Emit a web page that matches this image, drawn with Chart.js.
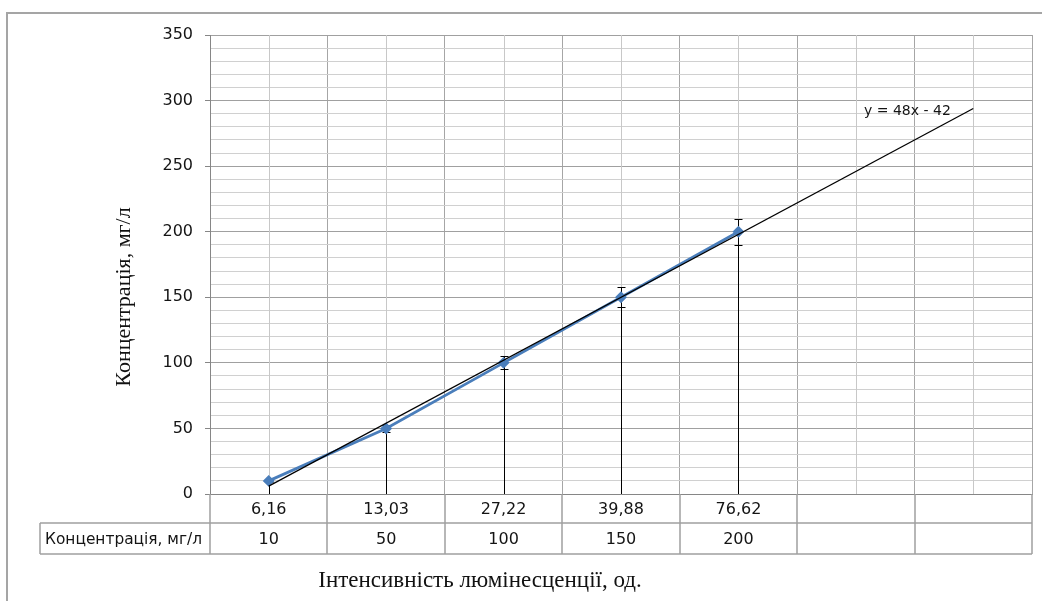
<!DOCTYPE html>
<html>
<head>
<meta charset="utf-8">
<script src="https://cdn.jsdelivr.net/npm/chart.js@4.4.1/dist/chart.umd.min.js"></script>
<style>
  html, body { margin: 0; padding: 0; background: #fff; }
  #wrap { width: 1042px; height: 601px; }
</style>
</head>
<body>
<div id="wrap"><canvas id="calibChart" width="1042" height="601"></canvas></div>
<script>
// intensity (x categories), the last two columns are empty in the original sheet
const intensity = ['6,16', '13,03', '27,22', '39,88', '76,62', '', ''];
// concentration, mg/l
const concentration = [10, 50, 100, 150, 200];
// error bar half widths (5 %)
const errorValues = [0.5, 2.5, 5, 7.5, 10];
// linear trend, read at the first and the last category
const trendValues = [6, null, null, null, null, null, 294];
const trendLabel = 'y = 48x - 42';
const yTicks = [0, 50, 100, 150, 200, 250, 300, 350];
const rowHeader = 'Концентрація, мг/л';
const xTitle = 'Інтенсивність люмінесценції, од.';
const yTitle = 'Концентрація, мг/л';

const sans = 'DejaVu Sans';
const serif = 'Liberation Serif';
const textColor = '#141414';
const tableColor = '#a0a0a0';

// frame, minor grid, drop lines, error bars, data table and titles
const excelExtras = {
    id: 'excelExtras',
    beforeDraw(chart) {
        const c = chart.ctx;
        c.save();
        c.fillStyle = '#fff';
        c.fillRect(0, 0, chart.width, chart.height);
        c.strokeStyle = '#a5a5a5';
        c.lineWidth = 2;
        c.strokeRect(7, 13, chart.width + 20, chart.height + 20);
        c.restore();
    },
    beforeDatasetsDraw(chart) {
        const { ctx: c, chartArea: a, scales: { x, y } } = chart;
        c.save();
        c.lineWidth = 1;
        c.strokeStyle = '#c8c8c8';
        intensity.forEach((_, i) => {
            const px = Math.round(x.getPixelForValue(i)) + 0.5;
            c.beginPath();
            c.moveTo(px, a.top);
            c.lineTo(px, a.bottom);
            c.stroke();
        });
        c.strokeStyle = '#000';
        concentration.forEach((v, i) => {
            const px = Math.round(x.getPixelForValue(i)) + 0.5;
            c.beginPath();
            c.moveTo(px, y.getPixelForValue(v));
            c.lineTo(px, a.bottom);
            c.stroke();
            const top = Math.round(y.getPixelForValue(v + errorValues[i])) + 0.5;
            const bot = Math.round(y.getPixelForValue(v - errorValues[i])) + 0.5;
            c.beginPath();
            c.moveTo(px, top); c.lineTo(px, bot);
            c.moveTo(px - 4, top); c.lineTo(px + 4, top);
            c.moveTo(px - 4, bot); c.lineTo(px + 4, bot);
            c.stroke();
        });
        c.restore();
    },
    afterDraw(chart) {
        const { ctx: c, chartArea: a, scales: { x } } = chart;
        const half = (x.getPixelForValue(1) - x.getPixelForValue(0)) / 2;
        const r0 = a.bottom, r1 = r0 + 29, r2 = r0 + 60;
        c.save();
        c.strokeStyle = tableColor;
        c.lineWidth = 1.5;
        c.beginPath();
        c.moveTo(40, r1); c.lineTo(a.right, r1);
        c.moveTo(40, r2); c.lineTo(a.right, r2);
        c.moveTo(40, r1); c.lineTo(40, r2);
        for (let i = 0; i <= intensity.length; i++) {
            const px = Math.round(x.getPixelForValue(0) - half + i * 2 * half);
            c.moveTo(px, r0); c.lineTo(px, r2);
        }
        c.stroke();

        c.fillStyle = textColor;
        c.font = '16px "' + sans + '"';
        c.textBaseline = 'middle';
        c.textAlign = 'center';
        intensity.forEach((t, i) => c.fillText(t, x.getPixelForValue(i), (r0 + r1) / 2 + 1));
        concentration.forEach((v, i) => c.fillText(String(v), x.getPixelForValue(i), (r1 + r2) / 2 + 1));
        c.textAlign = 'left';
        c.font = '15.4px "' + sans + '"';
        c.fillText(rowHeader, 45, (r1 + r2) / 2 + 1);

        c.font = '14px "' + sans + '"';
        c.fillText(trendLabel, 864, 111);

        c.fillStyle = '#111';
        c.font = '23px "' + serif + '"';
        c.textAlign = 'center';
        c.textBaseline = 'alphabetic';
        c.fillText(xTitle, 480, 587);
        c.translate(124, 297);
        c.rotate(-Math.PI / 2);
        c.textBaseline = 'middle';
        c.font = '22px "' + serif + '"';
        c.fillText(yTitle, 0, 0);
        c.restore();
    }
};

new Chart(document.getElementById('calibChart'), {
    type: 'line',
    data: {
        labels: intensity,
        datasets: [
            {
                label: 'trend',
                data: trendValues,
                borderColor: '#000',
                borderWidth: 1.2,
                pointRadius: 0,
                spanGaps: true,
                tension: 0
            },
            {
                label: rowHeader,
                data: concentration,
                borderColor: '#4a7ebb',
                borderWidth: 2.8,
                pointStyle: 'rectRot',
                pointRadius: 4,
                pointBackgroundColor: '#4a7ebb',
                pointBorderColor: '#4a7ebb',
                tension: 0
            }
        ]
    },
    options: {
        responsive: false,
        animation: false,
        devicePixelRatio: 1,
        layout: { padding: { top: 35, right: 10, left: 0, bottom: 0 } },
        plugins: { legend: { display: false }, tooltip: { enabled: false } },
        scales: {
            x: {
                offset: true,
                grid: { offset: true, color: '#a6a6a6', drawTicks: false },
                border: { color: '#868686' },
                ticks: { display: false },
                afterFit: s => { s.height = 107; }
            },
            y: {
                min: 0,
                max: 350,
                ticks: {
                    stepSize: 10,
                    autoSkip: false,
                    padding: 12,
                    color: textColor,
                    font: { family: sans, size: 16 },
                    callback: v => yTicks.includes(v) ? v : ''
                },
                grid: {
                    color: ctx => yTicks.includes(ctx.tick.value) ? '#a0a0a0' : '#d0d0d0',
                    tickColor: ctx => yTicks.includes(ctx.tick.value) ? '#868686' : 'rgba(0,0,0,0)',
                    tickLength: 5
                },
                border: { color: '#868686' },
                afterFit: s => { s.width = 210; }
            }
        }
    },
    plugins: [excelExtras]
});
</script>
</body>
</html>
